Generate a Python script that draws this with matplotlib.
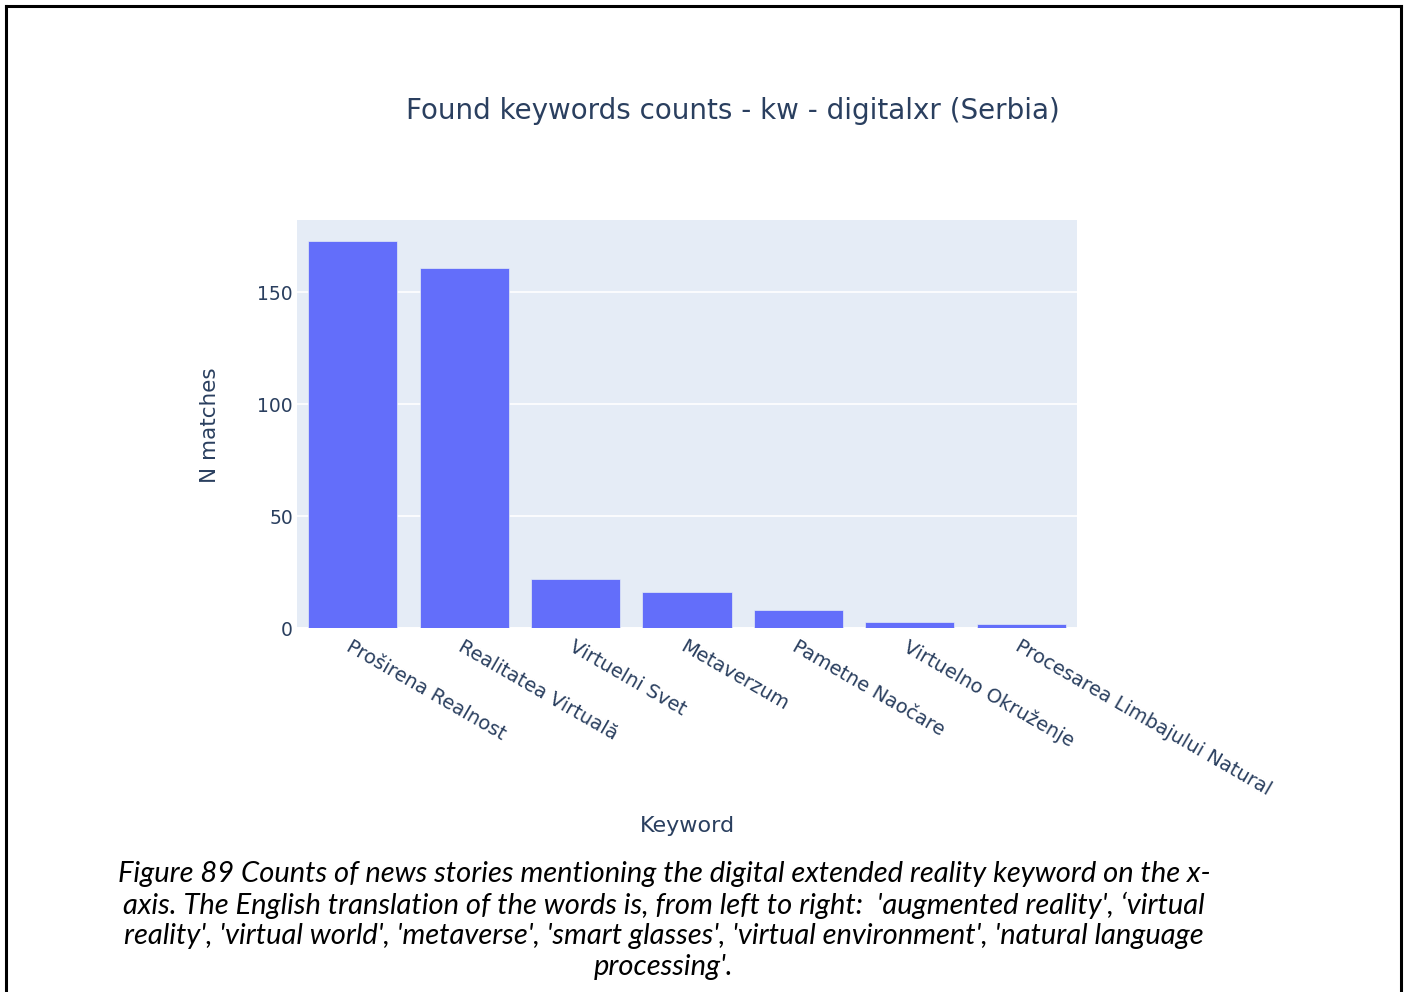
import numpy as np
import matplotlib.pyplot as plt
from matplotlib.lines import Line2D

keywords = ['Proširena Realnost', 'Realitatea Virtuală', 'Virtuelni Svet', 'Metaverzum',
            'Pametne Naočare', 'Virtuelno Okruženje', 'Procesarea Limbajului Natural']
counts = [173, 161, 22, 16, 8, 3, 2]
yticks = [0, 50, 100, 150]

title = 'Found keywords counts - kw - digitalxr (Serbia)'
caption = ("Figure 89 Counts of news stories mentioning the digital extended reality keyword on the x-\n"
           "axis. The English translation of the words is, from left to right:  'augmented reality', \u2018virtual\n"
           "reality', 'virtual world', 'metaverse', 'smart glasses', 'virtual environment', 'natural language\n"
           "processing'.")

txt_col = '#2a3f5f'

fig = plt.figure(figsize=(14.06, 9.92), dpi=100)
ax = fig.add_axes([297 / 1406, 1 - 628.3 / 992, 780 / 1406, 408.3 / 992])
ax.set_facecolor('#E5ECF6')

x = np.arange(len(keywords))
ax.bar(x, counts, width=0.8, color='#636EFA', edgecolor='#E5ECF6', linewidth=0.5, zorder=3)

ax.set_xlim(-0.5, len(keywords) - 0.5)
ax.set_ylim(0, 182.3)
ax.set_yticks(yticks)
ax.set_yticklabels([str(v) for v in yticks], fontsize=13.5, color=txt_col, family='DejaVu Sans')
ax.grid(axis='y', color='white', linewidth=1.2, zorder=1)
ax.axhline(0, color='white', linewidth=2, zorder=2)
ax.tick_params(axis='y', length=0, pad=3)
ax.tick_params(axis='x', length=0, pad=6)
ax.set_xticks(x)
ax.set_xticklabels(keywords, rotation=-30, rotation_mode='anchor', ha='left', va='top',
                   fontsize=14, color=txt_col, family='DejaVu Sans')
for s in ax.spines.values():
    s.set_visible(False)

fig.text(733 / 1406, 1 - 111 / 992, title, ha='center', va='center', fontsize=20,
         color=txt_col, family='DejaVu Sans')
fig.text(210 / 1406, 1 - 425 / 992, 'N matches', ha='center', va='center', rotation=90,
         fontsize=15.5, color=txt_col, family='DejaVu Sans')
fig.text(687 / 1406, 1 - 826 / 992, 'Keyword', ha='center', va='center',
         fontsize=16, color=txt_col, family='DejaVu Sans')

fig.text(664 / 1406, 1 - 920.5 / 992, caption, ha='center', va='center', fontsize=21,
         style='italic', family='Lato', color='black', linespacing=1.2)

# page frame (left, top, right edges)
for xs, ys in [([6, 6], [992, 6]), ([6, 1401], [6, 6]), ([1401, 1401], [6, 992])]:
    fig.add_artist(Line2D([v / 1406 for v in xs], [1 - v / 992 for v in ys], color='black', linewidth=2.2))

fig.savefig('out.png', dpi=100)
